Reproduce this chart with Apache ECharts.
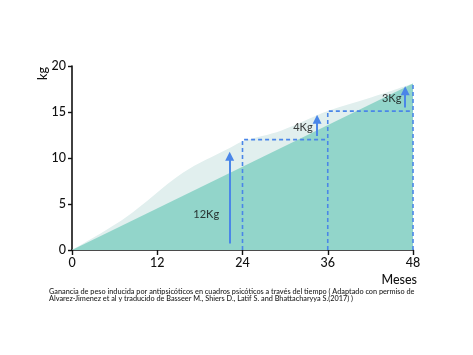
<!DOCTYPE html>
<html><head><meta charset="utf-8">
<script src="https://cdn.jsdelivr.net/npm/echarts@6/dist/echarts.min.js"></script>
<style>html,body{margin:0;padding:0;background:#fff}#c{width:473px;height:355px}</style>
</head><body><div id="c"></div>
<script>
const xTicks = [0, 12, 24, 36, 48];
const yTicks = [0, 5, 10, 15, 20];
const darkArea = [[0, 0], [48, 18.1]];
const lightArea = [[0, 0], [7.5, 3.5], [15.6, 8.4], [22.2, 11.1], [24, 11.8], [29.5, 13.0], [36, 15.1], [42.2, 16.6], [48, 18.1]];
const dashPath1 = [[24, 0], [24, 12], [36, 12]];
const dashPath2 = [[36, 0], [36, 15.1], [48, 15.1]];
const dashPath3 = [[48, 0], [48, 18.1]];
const arrowX = [22.2, 34.5, 46.9];
const arrowFrom = [0.7, 12.4, 15.5];
const arrowTo = [10.2, 14.2, 17.3];
const arrowLabels = ['12Kg', '4Kg', '3Kg'];
const labelPos = [[18.9, 3.9], [32.5, 13.3], [45.0, 16.5]];
const caption1 = 'Ganancia de peso inducida por antipsicóticos en cuadros psicóticos a través del tiempo ( Adaptado con permiso de';
const caption2 = 'Alvarez-Jimenez et al y traducido de Basseer M., Shiers D., Latif S. and Bhattacharyya S.(2017) )';

const FONT = 'Lato, "Noto Sans", sans-serif';
const BLUE = '#4a86e8';
const chart = echarts.init(document.getElementById('c'));

const dashStyle = { color: BLUE, width: 1.6, type: [4, 3] };
function dashSeries(path) {
  return { type: 'line', data: path, symbol: 'none', lineStyle: dashStyle, z: 5, silent: true };
}

chart.setOption({
  animation: false,
  grid: { left: 72, right: 60, top: 66, bottom: 105 },
  xAxis: {
    type: 'value', min: xTicks[0], max: xTicks[xTicks.length - 1], interval: 12,
    axisLine: { lineStyle: { color: '#111', width: 1.6 } },
    axisTick: { show: true, length: 5, lineStyle: { color: '#111', width: 1.4 } },
    axisLabel: { color: '#111', fontSize: 12.5, fontFamily: FONT, fontWeight: 500, margin: 6 },
    splitLine: { show: false }
  },
  yAxis: {
    type: 'value', min: yTicks[0], max: yTicks[yTicks.length - 1], interval: 5,
    axisLine: { show: true, lineStyle: { color: '#111', width: 1.6 } },
    axisTick: { show: true, length: 4, lineStyle: { color: '#111', width: 1.4 } },
    axisLabel: { color: '#111', fontSize: 12.5, fontFamily: FONT, fontWeight: 500, margin: 6 },
    splitLine: { show: false }
  },
  series: [
    { type: 'line', data: lightArea, smooth: 0.35, symbol: 'none', lineStyle: { width: 0 },
      areaStyle: { color: '#e1efee', opacity: 1 }, z: 1 },
    { type: 'line', data: darkArea, symbol: 'none', lineStyle: { width: 0 },
      areaStyle: { color: '#92d5ca', opacity: 1 }, z: 2 },
    dashSeries(dashPath1),
    dashSeries(dashPath2),
    dashSeries(dashPath3),
    { type: 'lines', coordinateSystem: 'cartesian2d', z: 6,
      symbol: ['none', 'triangle'], symbolSize: 9,
      lineStyle: { color: BLUE, width: 2, opacity: 1 },
      data: arrowX.map((x, i) => ({ coords: [[x, arrowFrom[i]], [x, arrowTo[i]]] })) },
    { type: 'scatter', symbolSize: 0, z: 7,
      data: labelPos.map((p, i) => ({ value: p, name: arrowLabels[i] })),
      label: { show: true, position: 'inside', formatter: '{b}', color: '#111', fontSize: 11, fontFamily: FONT, fontWeight: 500 } }
  ],
  graphic: [
    { type: 'text', left: 36, top: 67, rotation: Math.PI / 2, style: { text: 'kg', fill: '#111', font: '500 12.5px ' + FONT } },
    { type: 'text', right: 56, top: 273, style: { text: 'Meses', fill: '#111', font: '500 12.5px ' + FONT } },
    { type: 'text', left: 49, top: 288.5, style: { text: caption1, fill: '#222', font: '500 7.3px ' + FONT } },
    { type: 'text', left: 49, top: 295, style: { text: caption2, fill: '#222', font: '500 7.3px ' + FONT } }
  ]
});
</script></body></html>
